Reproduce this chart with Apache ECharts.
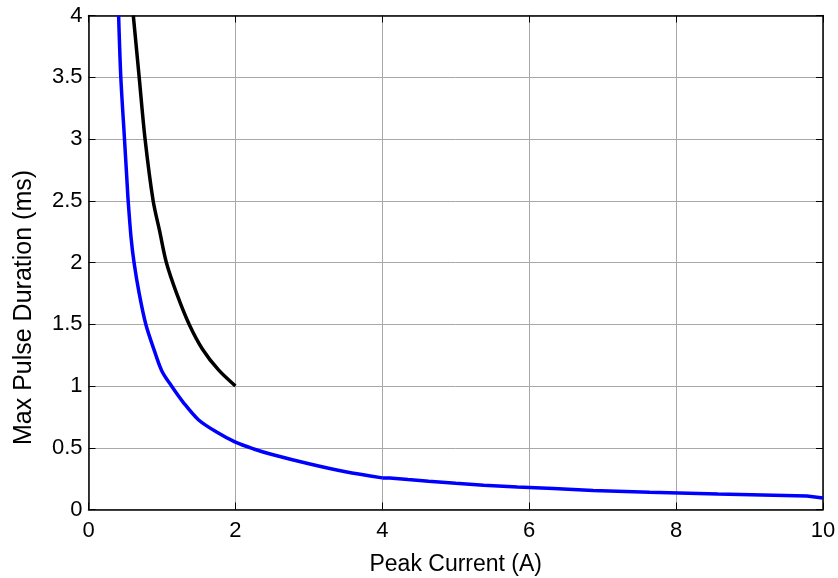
<!DOCTYPE html>
<html>
<head>
<meta charset="utf-8">
<script src="https://cdn.jsdelivr.net/npm/echarts@6/dist/echarts.min.js"></script>
<style>
  html, body { margin: 0; padding: 0; background: #fff; }
  #main { width: 838px; height: 578px; }
</style>
</head>
<body>
<div id="main"></div>
<script>
// curve
var blueX = [0.41, 0.44, 0.49, 0.52, 0.54, 0.58, 0.62, 0.69, 0.78, 0.9, 1.0, 1.13, 1.3, 1.5, 1.75, 2.0, 2.25, 2.5, 3.0, 3.5, 4.0];
var blueY = [4.0, 3.5, 3.0, 2.7, 2.5, 2.2, 2.0, 1.75, 1.5, 1.28, 1.12, 1.0, 0.86, 0.725, 0.625, 0.545, 0.49, 0.445, 0.37, 0.305, 0.256];
// stepped tail of the blue curve: where each step starts and its level
var stepX = [4.1, 4.35, 4.63, 5.0, 5.38, 5.84, 6.33, 6.87, 7.64, 8.57, 9.78];
var stepY = [0.243, 0.229, 0.213, 0.197, 0.183, 0.170, 0.154, 0.140, 0.126, 0.110, 0.094];
var blueEndX = 10;

var blackX = [0.61, 0.69, 0.77, 0.88, 0.97, 1.06, 1.2, 1.37, 1.55, 1.77, 2.0];
var blackY = [4.0, 3.5, 3.0, 2.5, 2.25, 2.0, 1.75, 1.5, 1.3, 1.13, 1.0];

var xTicks = [0, 2, 4, 6, 8, 10];
var yTicks = [0, 0.5, 1, 1.5, 2, 2.5, 3, 3.5, 4];

var blueHead = [];
for (var i = 0; i < blueX.length; i++) {
    blueHead.push([blueX[i], blueY[i]]);
}
var blueTail = [];
var lastX = blueX[blueX.length - 1];
var level = blueY[blueY.length - 1];
blueTail.push([lastX, level]);
for (var j = 0; j < stepX.length; j++) {
    blueTail.push([stepX[j], level]);
    level = stepY[j];
    blueTail.push([stepX[j], level]);
}
blueTail.push([blueEndX, level]);

var blackData = [];
for (var k = 0; k < blackX.length; k++) {
    blackData.push([blackX[k], blackY[k]]);
}

var font = 'Liberation Sans, Arial, sans-serif';
var chart = echarts.init(document.getElementById('main'));

var tickStyle = { show: true, inside: true, length: 7, lineStyle: { color: '#000', width: 1 } };
var lineStyle = { show: true, onZero: false, lineStyle: { color: '#000', width: 1.5 } };

function curve(name, data, color, smooth) {
    return {
        name: name,
        type: 'line',
        data: data,
        showSymbol: false,
        smooth: smooth,
        clip: true,
        lineStyle: { color: color, width: 3.5 },
        itemStyle: { color: color }
    };
}

var option = {
    animation: false,
    backgroundColor: '#fff',
    grid: {
        left: 88.5, right: 15, top: 15.5, bottom: 68.5,
        containLabel: false,
        outerBoundsMode: 'none'
    },
    xAxis: [
        {
            type: 'value',
            min: xTicks[0], max: xTicks[xTicks.length - 1], interval: 2,
            name: 'Peak Current (A)',
            nameLocation: 'middle',
            nameGap: 44,
            nameTextStyle: { fontFamily: font, fontSize: 23, color: '#000' },
            axisLine: lineStyle,
            axisTick: tickStyle,
            axisLabel: { fontFamily: font, fontSize: 22, color: '#000', margin: 10 },
            splitLine: { show: true, lineStyle: { color: '#a8a8a8', width: 1 } }
        },
        {
            type: 'value', position: 'top',
            min: xTicks[0], max: xTicks[xTicks.length - 1], interval: 2,
            axisLine: lineStyle, axisTick: tickStyle,
            axisLabel: { show: false }, splitLine: { show: false }
        }
    ],
    yAxis: [
        {
            type: 'value',
            min: yTicks[0], max: yTicks[yTicks.length - 1], interval: 0.5,
            name: 'Max Pulse Duration (ms)',
            nameLocation: 'middle',
            nameGap: 52,
            nameTextStyle: { fontFamily: font, fontSize: 25, color: '#000', padding: [0, 90, 0, 0] },
            axisLine: lineStyle,
            axisTick: tickStyle,
            axisLabel: { fontFamily: font, fontSize: 22, color: '#000', margin: 6 },
            splitLine: { show: true, lineStyle: { color: '#a8a8a8', width: 1 } }
        },
        {
            type: 'value', position: 'right',
            min: yTicks[0], max: yTicks[yTicks.length - 1], interval: 0.5,
            axisLine: lineStyle, axisTick: tickStyle,
            axisLabel: { show: false }, splitLine: { show: false }
        }
    ],
    series: [
        curve('blue', blueHead, '#0000ff', 0.3),
        curve('blue tail', blueTail, '#0000ff', false),
        curve('black', blackData, '#000000', 0.3)
    ]
};

option && chart.setOption(option);
</script>
</body>
</html>
